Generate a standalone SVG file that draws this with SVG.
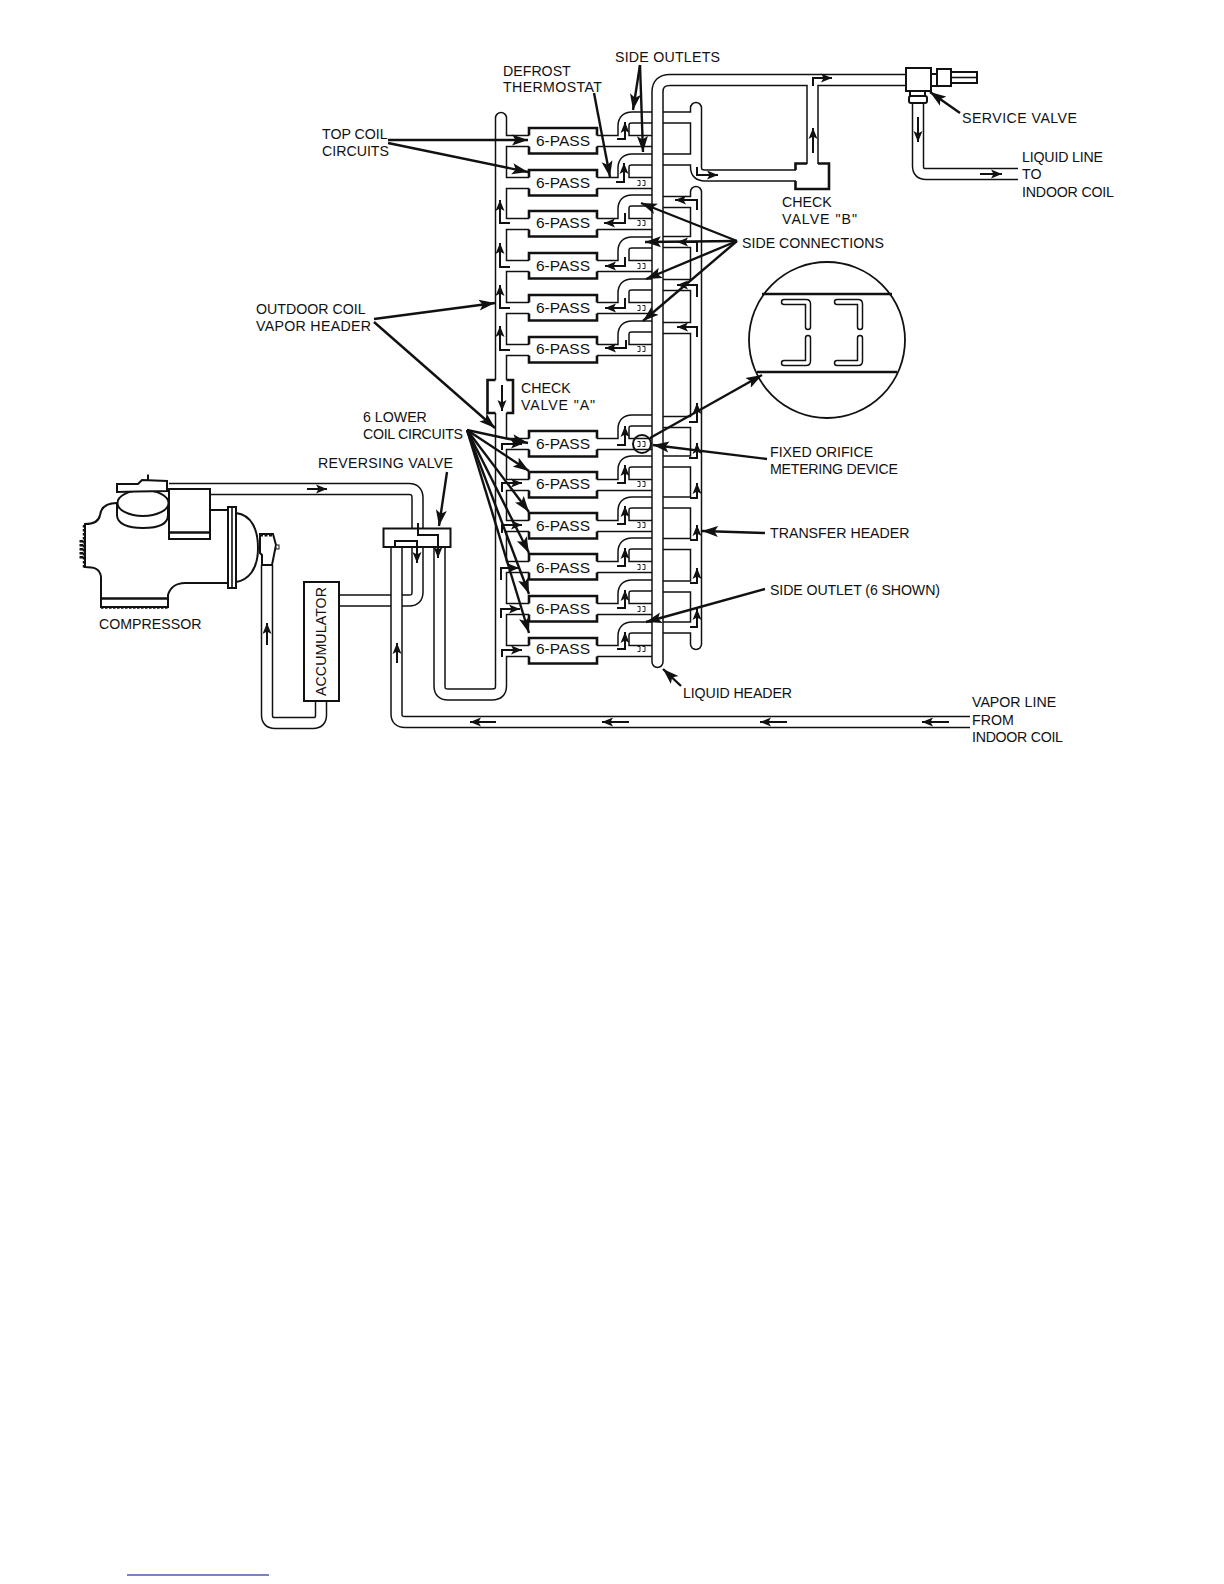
<svg xmlns="http://www.w3.org/2000/svg" xmlns:xlink="http://www.w3.org/1999/xlink" width="1224" height="1584" viewBox="0 0 1224 1584">
<style>
text{font-family:"Liberation Sans",Arial,sans-serif;font-size:14.2px;fill:#111}
.pass{font-size:15.5px;text-anchor:middle}
.pipes path{fill:none}
.rc{stroke-linecap:round}
.o{stroke:#111;stroke-width:12.5}
.i{stroke:#fff;stroke-width:9.5}
.box{fill:#fff;stroke:none}
.edge{fill:none;stroke:#111;stroke-width:2.6}
.thin{fill:none;stroke:#111;stroke-width:1.6}
.shape{fill:#fff;stroke:#111;stroke-width:2}
.call{fill:none;stroke:#111;stroke-width:2.4;marker-end:url(#hd)}
.flow{fill:none;stroke:#111;stroke-width:2;marker-end:url(#hs)}
.ori{fill:none;stroke:#111;stroke-width:.9}
.tube{fill:none;stroke-linejoin:round;stroke-linecap:round}
</style>
<defs>
<marker id="hd" markerUnits="userSpaceOnUse" markerWidth="17" markerHeight="12" refX="16" refY="6" orient="auto"><path d="M0,0.5L16,6L0,11.5L3.500,6z" fill="#111"/></marker>
<marker id="hs" markerUnits="userSpaceOnUse" markerWidth="12" markerHeight="10" refX="11" refY="5" orient="auto"><path d="M0,0.5L11,5L0,9.5L2.500,5z" fill="#111"/></marker>
<g id="coilpipes" class="pipes">
<path class="rc" d="M439.5,547V686Q439.5,694.5 448,694.5H492Q501,694.5 501,686V118"/>
<path class="rc" d="M696,192V644"/>
<path class="rc" d="M696,108V167Q696,175.5 705,175.5H800"/>
<path d="M660,117.500H696M660,159.500H696M660,202H696M660,242H696M660,285H696M660,328H696M660,422H696M660,461.500H696M660,502.500H696M660,544H696M660,586.500H696M660,627.500H696"/>
<path d="M502,141H657M623.500,141V126Q623.500,117.500 632,117.500H657"/>
<path d="M502,183H657M623.500,183V168Q623.500,159.500 632,159.500H657"/>
<path d="M502,224H657M623.500,224V209Q623.500,200.500 632,200.500H657"/>
<path d="M502,266H657M623.500,266V251Q623.500,242.500 632,242.500H657"/>
<path d="M502,308H657M623.500,308V293Q623.500,284.500 632,284.500H657"/>
<path d="M502,350H657M623.500,350V335Q623.500,326.500 632,326.500H657"/>
<path d="M502,444H657M623.500,444V429Q623.500,420.500 632,420.500H657"/>
<path d="M502,485H657M623.500,485V470Q623.500,461.500 632,461.500H657"/>
<path d="M502,526H657M623.500,526V511Q623.500,502.500 632,502.500H657"/>
<path d="M502,567H657M623.500,567V552Q623.500,543.500 632,543.500H657"/>
<path d="M502,609H657M623.500,609V594Q623.500,585.500 632,585.500H657"/>
<path d="M502,651H657M623.500,651V636Q623.500,627.500 632,627.500H657"/>
</g>
<g id="liquidpipes" class="pipes">
<path class="rc" d="M657.500,662V92Q657.500,80 670,80H908"/>
<path d="M812.500,165V80"/>
</g>
<g id="linepipes" class="pipes">
<path d="M918,103V166Q918,174 926,174H1018"/>
<path d="M267,565V715Q267,723 275,723H313Q321,723 321,715V700"/>
<path d="M169,489H409Q417.500,489 417.500,498V530"/>
<path d="M417.500,545V592Q417.500,600.500 409,600.500H338"/>
</g>
<g id="vaporpipe" class="pipes"><path d="M396.500,545V714Q396.500,722 405,722H970"/></g>
<path id="edges" d="M529,7.500V0H597V7.500M529,18.500V25.500H597V18.500"/>
<path id="orifice" d="M-4.500,-2.500H-2V2.500H-4.500M.5,-2.500H3V2.500H.5"/>
</defs>

<g id="connectors">
<use href="#coilpipes" class="o"/>
<use href="#coilpipes" class="i"/>
<use href="#liquidpipes" class="o"/>
<use href="#liquidpipes" class="i"/>
<use href="#linepipes" class="o"/>
<use href="#linepipes" class="i"/>
<use href="#vaporpipe" class="o"/>
<use href="#vaporpipe" class="i"/>
<g id="flow-arrows">
<path class="flow" d="M617,139H625V122"/><path class="flow" d="M616,182H624V163"/>
<path class="flow" d="M625,213V223H604"/><path class="flow" d="M625,257V266H605"/><path class="flow" d="M625,298V308H605"/><path class="flow" d="M626,340V348H605"/>
<path class="flow" d="M617,445H625V426"/><path class="flow" d="M617,483H625V465"/><path class="flow" d="M617,524H625V506"/><path class="flow" d="M617,566H625V548"/><path class="flow" d="M617,608H625V590"/><path class="flow" d="M617,649H625V632"/>
<path class="flow" d="M510,223H500V200"/><path class="flow" d="M510,267H500V243"/><path class="flow" d="M510,308H500V285"/><path class="flow" d="M510,350H500V326"/>
<path class="flow" d="M502,450V444H522"/><path class="flow" d="M502,492V483H522"/><path class="flow" d="M502,533V525H522"/><path class="flow" d="M501,580V568H519"/><path class="flow" d="M501,618V609H520"/><path class="flow" d="M502,657V650H522"/>
<path class="flow" d="M697,210V200H675"/><path class="flow" d="M697,252V242H677"/><path class="flow" d="M697,297V285H677"/><path class="flow" d="M697,337V327H677"/>
<path class="flow" d="M689,422H697V403"/><path class="flow" d="M689,458H697V443"/><path class="flow" d="M690,498H697V483"/><path class="flow" d="M690,540H697V525"/><path class="flow" d="M690,583H697V568"/><path class="flow" d="M690,627H697V609"/>
<path class="flow" d="M697,167V175H718"/>
<path class="flow" d="M813,153V128"/><path class="flow" d="M813,86V78H832"/>
<path class="flow" d="M918,117V142"/><path class="flow" d="M980,174H1002"/>
<path class="flow" d="M307,489H327"/><path class="flow" d="M267,645V623"/><path class="flow" d="M397,663V643"/>
<path class="flow" d="M496,722H470"/><path class="flow" d="M629,722H602"/><path class="flow" d="M787,722H760"/><path class="flow" d="M949,722H922"/>
</g>
</g>

<g id="coil1"><rect class="box" x="529" y="128" width="68" height="25"/><use href="#edges" class="edge" x="0" y="128"/><text class="pass" x="563" y="146">6-PASS</text></g>
<g id="coil2"><rect class="box" x="529" y="170" width="68" height="25"/><use href="#edges" class="edge" x="0" y="170"/><text class="pass" x="563" y="188">6-PASS</text><use href="#orifice" class="ori" x="642" y="183"/></g>
<g id="coil3"><rect class="box" x="529" y="211" width="68" height="25"/><use href="#edges" class="edge" x="0" y="211"/><text class="pass" x="563" y="228">6-PASS</text><use href="#orifice" class="ori" x="642" y="223"/></g>
<g id="coil4"><rect class="box" x="529" y="253" width="68" height="25"/><use href="#edges" class="edge" x="0" y="253"/><text class="pass" x="563" y="271">6-PASS</text><use href="#orifice" class="ori" x="642" y="266"/></g>
<g id="coil5"><rect class="box" x="529" y="295" width="68" height="25"/><use href="#edges" class="edge" x="0" y="295"/><text class="pass" x="563" y="313">6-PASS</text><use href="#orifice" class="ori" x="642" y="308"/></g>
<g id="coil6"><rect class="box" x="529" y="337" width="68" height="25"/><use href="#edges" class="edge" x="0" y="337"/><text class="pass" x="563" y="354">6-PASS</text><use href="#orifice" class="ori" x="642" y="349"/></g>
<g id="coil7"><rect class="box" x="529" y="431" width="68" height="25"/><use href="#edges" class="edge" x="0" y="431"/><text class="pass" x="563" y="449">6-PASS</text><use href="#orifice" class="ori" x="642" y="444"/><circle cx="642" cy="444" r="9" fill="none" stroke="#111" stroke-width="2"/></g>
<g id="coil8"><rect class="box" x="529" y="472" width="68" height="25"/><use href="#edges" class="edge" x="0" y="472"/><text class="pass" x="563" y="489">6-PASS</text><use href="#orifice" class="ori" x="642" y="484"/></g>
<g id="coil9"><rect class="box" x="529" y="513" width="68" height="25"/><use href="#edges" class="edge" x="0" y="513"/><text class="pass" x="563" y="531">6-PASS</text><use href="#orifice" class="ori" x="642" y="525"/></g>
<g id="coil10"><rect class="box" x="529" y="554" width="68" height="25"/><use href="#edges" class="edge" x="0" y="554"/><text class="pass" x="563" y="573">6-PASS</text><use href="#orifice" class="ori" x="642" y="567"/></g>
<g id="coil11"><rect class="box" x="529" y="596" width="68" height="25"/><use href="#edges" class="edge" x="0" y="596"/><text class="pass" x="563" y="614">6-PASS</text><use href="#orifice" class="ori" x="642" y="609"/></g>
<g id="coil12"><rect class="box" x="529" y="638" width="68" height="25"/><use href="#edges" class="edge" x="0" y="638"/><text class="pass" x="563" y="654">6-PASS</text><use href="#orifice" class="ori" x="642" y="649"/></g>

<g id="check-valve-a">
<rect class="box" x="488" y="380" width="25" height="33"/>
<path class="edge" d="M495.500,380H487.500V413H495.500M506.500,380H513V413H506.500"/>
<path class="flow" d="M502,385V411"/>
</g>

<g id="check-valve-b">
<rect class="box" x="796" y="164" width="33" height="25"/>
<path class="edge" d="M807,163.500H795.500V170M795.500,181V189H829V163.500H818"/>
</g>

<g id="service-valve">
<rect class="shape" x="906" y="68" width="25" height="23" stroke-width="2.500"/>
<rect class="shape" x="931" y="74" width="6" height="12"/>
<rect class="shape" x="937" y="69" width="14" height="17"/>
<path class="shape" d="M951,72H977V83H951z"/><path class="thin" d="M951,77.500H977"/>
<rect class="shape" x="910" y="91" width="15" height="5"/>
<rect class="shape" x="909" y="96" width="18" height="7" rx="2"/>
</g>

<g id="reversing-valve">
<rect class="shape" x="383.500" y="528.500" width="67" height="18.500" stroke-width="2.600"/>
<path class="flow" d="M418,523V535H438V558"/>
<path class="flow" d="M395,547V541H417V563"/>
</g>

<g id="accumulator">
<rect class="shape" x="304" y="582" width="35" height="119" stroke-width="2.600"/>
<text transform="translate(326,701) rotate(-90)" x="5" y="0" textLength="109">ACCUMULATOR</text>
</g>

<g id="compressor">
<path class="shape" d="M117,503C105,503 101,508 100,515C99,521 94,524 85,524V567C93,567 100,568 101,577V607H168V595C170,588 176,583 185,583H228V510H209"/>
<path class="edge" d="M101,598.500H168"/>
<path d="M101,607.500H168" fill="none" stroke="#111" stroke-width="2.500" stroke-dasharray="2.500 1.500"/>
<path d="M84,525V568" fill="none" stroke="#111" stroke-width="2.500" stroke-dasharray="2.500 1.500"/>
<path d="M81.500,540V560" fill="none" stroke="#111" stroke-width="4" stroke-dasharray="2.500 1.500"/>
<rect class="shape" x="228" y="507" width="8" height="81"/>
<path class="thin" d="M232,508V587"/>
<path class="shape" d="M236,513C252,515 258,530 258,548C258,570 248,580 236,582z"/>
<path class="shape" d="M117,503V515C117,524 128,528 143,528C158,528 168,524 168,515V503z"/>
<ellipse class="shape" cx="143" cy="503" rx="25.500" ry="13"/>
<rect class="shape" x="169" y="489" width="41" height="50"/>
<path class="edge" d="M169,532.500H210"/>
<path class="shape" d="M117,484L138,484L142,480L167,481V491L137,491.500L117,492z"/>
<path class="shape" d="M148,480V474.500" stroke-width="3"/>
<path class="shape" d="M260,534H273L276,545L272,565H262V555L260,553z"/>
<path d="M260,535H273" fill="none" stroke="#111" stroke-width="3" stroke-dasharray="3 1.500"/>
<rect x="276" y="545" width="3" height="4" fill="#fff" stroke="#111"/>
</g>

<g id="orifice-detail">
<circle cx="827" cy="340" r="78" fill="#fff" stroke="#111" stroke-width="1.800"/>
<path class="edge" d="M762,294H892M757,372H897" stroke-width="2.200"/>
<g class="tube" stroke="#111" stroke-width="6.500"><path d="M784,302H806Q808,302 808,304V327"/><path d="M837,302H858Q860,302 860,304V327"/><path d="M808,338V361Q808,363 806,363H784"/><path d="M860,338V361Q860,363 858,363H837"/></g>
<g class="tube" stroke="#fff" stroke-width="3.500"><path d="M784,302H806Q808,302 808,304V327"/><path d="M837,302H858Q860,302 860,304V327"/><path d="M808,338V361Q808,363 806,363H784"/><path d="M860,338V361Q860,363 858,363H837"/></g>
</g>

<g id="label-arrows">
<path class="call" d="M388,140L528,140"/><path class="call" d="M388,143L528,172"/>
<path class="call" d="M640,65L633,110"/><path class="call" d="M640,65L643,152"/>
<path class="call" d="M594,93L610,177"/>
<path class="call" d="M737,241L641,203"/><path class="call" d="M737,241L645,242"/><path class="call" d="M737,241L646,279"/><path class="call" d="M737,241L643,321"/>
<path class="call" d="M374,319L495,303"/><path class="call" d="M374,322L495,428"/>
<path class="call" d="M467,430L528,443"/><path class="call" d="M467,430L529,471"/><path class="call" d="M467,430L529,512"/><path class="call" d="M467,430L529,553"/><path class="call" d="M467,430L529,594"/><path class="call" d="M467,430L529,633"/>
<path class="call" d="M767,459L653,445"/>
<path class="call" d="M650,438L762,375"/>
<path class="call" d="M765,533L702,531"/>
<path class="call" d="M765,589L646,622"/>
<path class="call" d="M681,686L663,669"/>
<path class="call" d="M960,113L930,92"/>
<path class="call" d="M447,472L439,526"/>
</g>

<g id="labels">
<text x="503" y="76">DEFROST</text><text x="503" y="92" textLength="99">THERMOSTAT</text>
<text x="615" y="62" textLength="105">SIDE OUTLETS</text>
<text x="322" y="139">TOP COIL</text><text x="322" y="156">CIRCUITS</text>
<text x="782" y="207">CHECK</text><text x="782" y="224" textLength="75">VALVE "B"</text>
<text x="742" y="248">SIDE CONNECTIONS</text>
<text x="962" y="123" textLength="115">SERVICE VALVE</text>
<text x="1022" y="162" textLength="81">LIQUID LINE</text><text x="1022" y="179">TO</text><text x="1022" y="197" textLength="92">INDOOR COIL</text>
<text x="256" y="314">OUTDOOR COIL</text><text x="256" y="331" textLength="115">VAPOR HEADER</text>
<text x="521" y="393">CHECK</text><text x="521" y="410" textLength="74">VALVE "A"</text>
<text x="363" y="422">6 LOWER</text><text x="363" y="439" textLength="100">COIL CIRCUITS</text>
<text x="770" y="457">FIXED ORIFICE</text><text x="770" y="474" textLength="128">METERING DEVICE</text>
<text x="770" y="538">TRANSFER HEADER</text>
<text x="770" y="595" textLength="170">SIDE OUTLET (6 SHOWN)</text>
<text x="683" y="698" textLength="109">LIQUID HEADER</text>
<text x="318" y="468" textLength="135">REVERSING VALVE</text>
<text x="99" y="629">COMPRESSOR</text>
<text x="972" y="707">VAPOR LINE</text><text x="972" y="725">FROM</text><text x="972" y="742" textLength="91">INDOOR COIL</text>
</g>
<path id="footnote-rule" d="M127,1575H269" fill="none" stroke="#00008b" stroke-width="1"/>
</svg>
